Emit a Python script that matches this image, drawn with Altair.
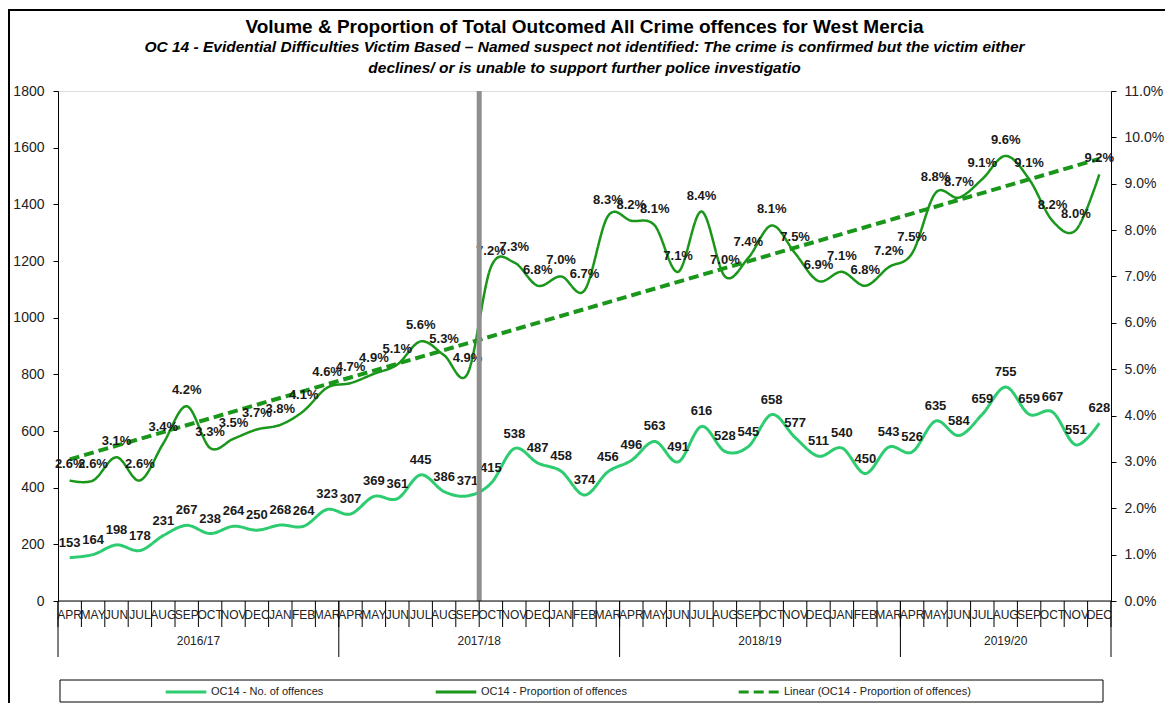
import altair as alt
import pandas as pd

# ---------------- data ----------------
months = ['APR', 'MAY', 'JUN', 'JUL', 'AUG', 'SEP', 'OCT', 'NOV', 'DEC', 'JAN', 'FEB', 'MAR']
years = ['2016/17', '2017/18', '2018/19', '2019/20']

counts = [153, 164, 198, 178, 231, 267, 238, 264, 250, 268, 264, 323,
          307, 369, 361, 445, 386, 371, 415, 538, 487, 458, 374, 456,
          496, 563, 491, 616, 528, 545, 658, 577, 511, 540, 450, 543,
          526, 635, 584, 659, 755, 659, 667, 551, 628]

props_pct = [2.6, 2.6, 3.1, 2.6, 3.4, 4.2, 3.3, 3.5, 3.7, 3.8, 4.1, 4.6,
             4.7, 4.9, 5.1, 5.6, 5.3, 4.9, 7.2, 7.3, 6.8, 7.0, 6.7, 8.3,
             8.2, 8.1, 7.1, 8.4, 7.0, 7.4, 8.1, 7.5, 6.9, 7.1, 6.8, 7.2,
             7.5, 8.8, 8.7, 9.1, 9.6, 9.1, 8.2, 8.0, 9.2]

series = ['OC14 - No. of offences',
          'OC14 - Proportion of offences',
          'Linear (OC14 - Proportion of offences)']
colors = ['#2ecc71', '#1a961a', '#1a961a']
dashes = [[1, 0], [1, 0], [10, 5]]

divider_after = [17.5]          # boundary between SEP and OCT 2017
left_ticks = list(range(0, 1801, 200))
right_ticks = [k / 100 for k in range(0, 12)]

title_text = 'Volume & Proportion of Total Outcomed All Crime offences for West Mercia'
subtitle_lines = ['OC 14 - Evidential Difficulties Victim Based \u2013 Named suspect not identified: '
                  'The crime is confirmed but the victim either',
                  'declines/ or is unable to support further police investigatio']

# ---------------- frames ----------------
n = len(counts)
df = pd.DataFrame({
    'i': list(range(n)),
    'count': counts,
    'prop': [p / 100 for p in props_pct],
    'year': [years[k // 12] for k in range(n)],
    'month': [months[k % 12] for k in range(n)],
})
year_bounds = sorted(set([float(g['i'].min()) - 0.5 for _, g in df.groupby('year')] + [n - 0.5]))
bounds_df = pd.DataFrame({'b': year_bounds})
month_bounds_df = pd.DataFrame({'b': [k - 0.5 for k in range(n + 1)]})
div_df = pd.DataFrame({'i': divider_after})
one = pd.DataFrame({'a': [0]})

W, H = 1053, 510
FONT = 'Liberation Sans, Arial, sans-serif'

x_scale = alt.Scale(domain=[-0.5, n - 0.5], nice=False, zero=False)
x_plain = alt.X('i:Q', scale=x_scale, axis=None)

left_scale = alt.Scale(domain=[0, 1800], nice=False)
right_scale = alt.Scale(domain=[0, 0.11], nice=False)
left_axis = alt.Axis(values=left_ticks, format='d', title=None, labelFontSize=14, labelFont=FONT,
                     labelColor='#222222', tickSize=5, labelPadding=9, domainColor='black',
                     tickColor='black', grid=False)
right_axis = alt.Axis(orient='right', values=right_ticks, format='.1%', title=None,
                      labelFontSize=14, labelFont=FONT, labelColor='#222222', tickSize=5,
                      labelPadding=8, domainColor='black', tickColor='black', grid=False)

legend = alt.Legend(orient='none', legendX=106, legendY=H + 69, direction='horizontal', title=None,
                    symbolType='stroke', symbolSize=1650, symbolStrokeWidth=3,
                    labelFontSize=11, labelFont=FONT, labelColor='#222222',
                    columnPadding=105, labelLimit=400, padding=0, labelOffset=3)
color_enc = alt.Color('series:N', scale=alt.Scale(domain=series, range=colors), legend=legend)
dash_enc = alt.StrokeDash('series:N', scale=alt.Scale(domain=series, range=dashes), legend=legend)

base = alt.Chart(df)

count_line = base.transform_calculate(series=f"'{series[0]}'").mark_line(
    interpolate='cardinal', strokeWidth=3).encode(
    x=x_plain, y=alt.Y('count:Q', scale=left_scale, axis=left_axis),
    color=color_enc, strokeDash=dash_enc)

prop_line = base.transform_calculate(series=f"'{series[1]}'").mark_line(
    interpolate='cardinal', strokeWidth=2.5).encode(
    x=x_plain, y=alt.Y('prop:Q', scale=right_scale, axis=right_axis),
    color=color_enc, strokeDash=dash_enc)

trend = base.transform_regression('i', 'prop').transform_calculate(
    series=f"'{series[2]}'").mark_line(strokeWidth=4).encode(
    x=x_plain, y=alt.Y('prop:Q', scale=right_scale, axis=None),
    color=color_enc, strokeDash=dash_enc)

count_labels = base.mark_text(baseline='bottom', dy=-8, fontSize=13, fontWeight='bold',
                              font=FONT, color='#1a1a1a').encode(
    x=x_plain, y=alt.Y('count:Q', scale=left_scale, axis=None), text=alt.Text('count:Q'))

prop_labels = base.mark_text(baseline='bottom', dy=-9, fontSize=13, fontWeight='bold',
                             font=FONT, color='#1a1a1a').encode(
    x=x_plain, y=alt.Y('prop:Q', scale=right_scale, axis=None),
    text=alt.Text('prop:Q', format='.1%'))

divider = alt.Chart(div_df).mark_rule(color='#8f8f8f', strokeWidth=5).encode(x=x_plain)

# category axis: baseline, month ticks, month labels, year ticks, year labels
x_baseline = alt.Chart(one).mark_rule(color='black', strokeWidth=1).encode(
    x=alt.value(0), x2=alt.value(W), y=alt.value(H))

month_ticks = alt.Chart(month_bounds_df).mark_rule(color='black', strokeWidth=1).encode(
    x=alt.X('b:Q', scale=x_scale, axis=None), y=alt.value(H), y2=alt.value(H + 26))

month_labels = base.mark_text(fontSize=12, font=FONT, color='#222222', baseline='top').encode(
    x=x_plain, y=alt.value(H + 9), text='month:N')

year_ticks = alt.Chart(bounds_df).mark_rule(color='black', strokeWidth=1).encode(
    x=alt.X('b:Q', scale=x_scale, axis=None), y=alt.value(H), y2=alt.value(H + 56))

year_labels = base.transform_aggregate(center='mean(i)', groupby=['year']).mark_text(
    fontSize=12, font=FONT, color='#222222', baseline='middle').encode(
    x=alt.X('center:Q', scale=x_scale, axis=None), y=alt.value(H + 40), text='year:N')

legend_box = alt.Chart(one).mark_rect(fillOpacity=0, stroke='black', strokeWidth=1).encode(
    x=alt.value(2), x2=alt.value(W - 8), y=alt.value(H + 79), y2=alt.value(H + 101))

border_top = alt.Chart(one).mark_rule(color='black', strokeWidth=2).encode(
    x=alt.value(-50), x2=alt.value(W + 54), y=alt.value(-81))
border_left = alt.Chart(one).mark_rule(color='black', strokeWidth=2).encode(
    x=alt.value(-49), y=alt.value(-81), y2=alt.value(H + 102))

chart = alt.layer(
    border_top, border_left, legend_box,
    count_line, prop_line, trend, count_labels, prop_labels,
    divider, x_baseline, month_ticks, month_labels, year_ticks, year_labels
).resolve_scale(y='independent').properties(
    width=W, height=H,
    autosize=alt.AutoSizeParams(type='none'),
    padding={'left': 50, 'top': 83, 'right': 54, 'bottom': 102},
    title=alt.TitleParams(
        text=title_text, subtitle=subtitle_lines, anchor='middle',
        font=FONT, fontSize=19, fontWeight='bold', color='black',
        subtitleFont=FONT, subtitleFontSize=15.5, subtitleFontStyle='italic',
        subtitleFontWeight='bold', subtitleColor='black', subtitleLineHeight=21,
        subtitlePadding=3, offset=-67)
).configure_view(stroke='#a6a6a6').configure(background='white')

chart.save('out.html', embed_options={'renderer': 'svg', 'actions': False})
